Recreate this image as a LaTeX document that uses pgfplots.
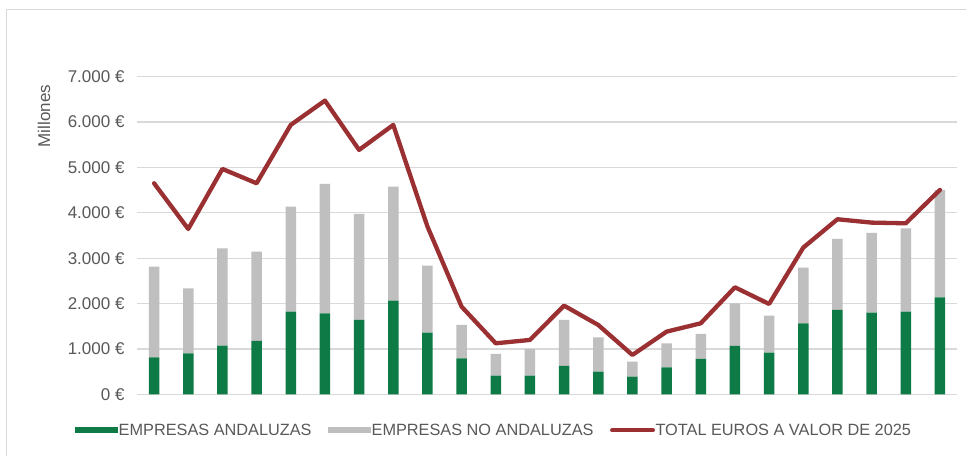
\documentclass[border=0pt]{standalone}
\usepackage{pgfplots}
\pgfplotsset{compat=1.18}
\usepackage{fontspec}
\setmainfont{Liberation Sans}
\definecolor{andgreen}{RGB}{14,122,69}
\definecolor{nogray}{RGB}{191,191,191}
\definecolor{totred}{RGB}{155,48,50}
\definecolor{txtgray}{RGB}{89,89,89}
\definecolor{gridgray}{RGB}{217,217,217}
\pgfplotstableread{
x and noand total
0 815 2000 4651
1 904 1432 3644
2 1073 2145 4967
3 1176 1969 4651
4 1822 2315 5937
5 1785 2851 6473
6 1638 2337 5386
7 2065 2513 5937
8 1359 1477 3700
9 794 734 1932
10 411 478 1124
11 411 588 1198
12 625 1013 1954
13 500 756 1528
14 389 331 867
15 595 529 1381
16 779 551 1565
17 1065 941 2358
18 918 816 1991
19 1565 1227 3233
20 1859 1565 3858
21 1800 1756 3784
22 1822 1837 3769
23 2138 2366 4504
}\datatable
\begin{document}
\begin{tikzpicture}
\useasboundingbox (0,0) rectangle (966bp,456bp);
\fill[white] (0,0) rectangle (966bp,456bp);
\draw[gridgray, line width=1bp] (6bp,-5bp) -- (6bp,446bp) -- (980bp,446bp);
\begin{axis}[
  at={(137bp,61.7bp)}, anchor=south west,
  scale only axis, width=820bp, height=317.6bp,
  xmin=-0.5, xmax=23.5, ymin=0, ymax=7000,
  axis line style={draw=none},
  ybar stacked, bar width=10.5bp,
  xtick=\empty,
  ytick={0,1000,...,7000},
  yticklabels={0 €,1.000 €,2.000 €,3.000 €,4.000 €,5.000 €,6.000 €,7.000 €},
  major tick length=0pt,
  ymajorgrids, grid style={gridgray, line width=1.2bp},
  yticklabel style={font=\fontsize{17bp}{20bp}\selectfont, text=txtgray, xshift=-9bp},
  legend columns=3,
  legend style={at={(-0.0756,-0.113)}, anchor=west, draw=none, fill=none,
    font=\fontsize{16.3bp}{19bp}\selectfont, text=txtgray,
    inner sep=0pt, nodes={inner sep=0.5bp},
    /tikz/every even column/.append style={column sep=16bp},
    /tikz/every odd column/.append style={column sep=0pt}},
  legend cell align=left,
]
\addplot[draw=none, fill=andgreen,
  legend image code/.code={\fill[andgreen] (0bp,-2.8bp) rectangle (43bp,2.8bp);}]
  table[x=x, y=and] {\datatable};
\addlegendentry{EMPRESAS ANDALUZAS}
\addplot[draw=none, fill=nogray,
  legend image code/.code={\fill[nogray] (0bp,-2.8bp) rectangle (43bp,2.8bp);}]
  table[x=x, y=noand] {\datatable};
\addlegendentry{EMPRESAS NO ANDALUZAS}
\addlegendimage{legend image code/.code={\draw[totred, line width=4.5bp, line cap=round] (2.5bp,0) -- (43bp,0);}}
\addlegendentry{TOTAL EUROS A VALOR DE 2025}
\end{axis}
\begin{axis}[
  at={(137bp,61.7bp)}, anchor=south west,
  scale only axis, width=820bp, height=317.6bp,
  xmin=-0.5, xmax=23.5, ymin=0, ymax=7000,
  hide axis,
]
\addplot[totred, line width=4.3bp, line join=round, line cap=round, mark=none]
  table[x=x, y=total] {\datatable};
\end{axis}
\node[rotate=90, text=txtgray, font=\fontsize{17bp}{20bp}\selectfont] at (44bp,340bp) {Millones};
\end{tikzpicture}
\end{document}
